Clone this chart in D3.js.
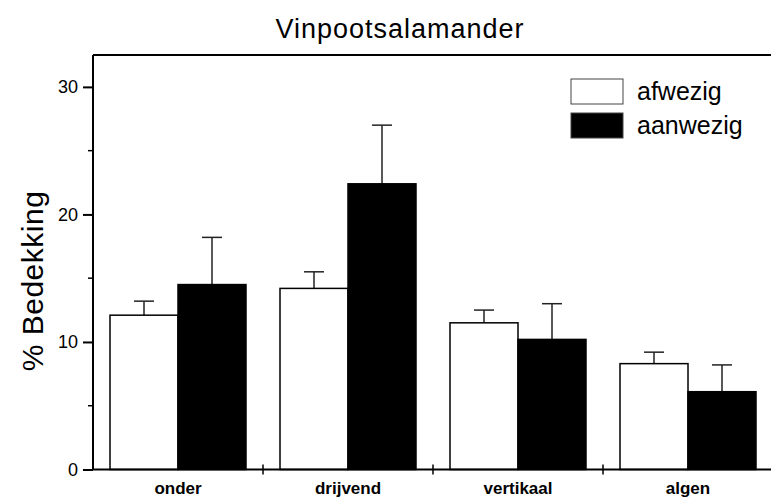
<!DOCTYPE html>
<html>
<head>
<meta charset="utf-8">
<script src="https://cdn.jsdelivr.net/npm/d3@7"></script>
<style>
  body { margin: 0; background: #fff; }
  text { font-family: Arial, "Liberation Sans", sans-serif; }
</style>
</head>
<body>
<div id="chart"></div>
<script>
// Categories and series
const categories = ["onder", "drijvend", "vertikaal", "algen"];
const seriesNames = ["afwezig", "aanwezig"];
const afwezig = [12.1, 14.2, 11.5, 8.3];
const afwezigErr = [1.1, 1.3, 1.0, 0.9];
const aanwezig = [14.5, 22.4, 10.2, 6.1];
const aanwezigErr = [3.7, 4.6, 2.8, 2.1];
const yTicks = [0, 10, 20, 30];
const yMinorTicks = [5, 15, 25];

const width = 771, height = 497;
const margin = { top: 55, left: 93, bottom: 27.5 };

const svg = d3.select("#chart").append("svg")
  .attr("width", width)
  .attr("height", height);

// Scales
const x = d3.scaleBand()
  .domain(categories)
  .range([margin.left, 773])
  .padding(0);

const x1 = d3.scaleBand()
  .domain(seriesNames)
  .range([0, x.bandwidth() * 0.8]);

const y = d3.scaleLinear()
  .domain([0, 32.5])
  .range([height - margin.bottom, margin.top]);

const rows = categories.map((c, i) => ({
  cat: c,
  vals: [
    { name: "afwezig", v: afwezig[i], e: afwezigErr[i], fill: "#fff" },
    { name: "aanwezig", v: aanwezig[i], e: aanwezigErr[i], fill: "#000" }
  ]
}));

const groups = svg.selectAll(".grp")
  .data(rows)
  .enter()
  .append("g")
  .attr("class", "grp")
  .attr("transform", d => `translate(${x(d.cat) + x.bandwidth() * 0.1},0)`);

// Error bars (drawn first so the bar covers the bottom)
groups.selectAll(".err")
  .data(d => d.vals)
  .enter()
  .append("g")
  .each(function (d) {
    const cx = x1(d.name) + x1.bandwidth() / 2;
    const g = d3.select(this);
    g.append("line")
      .attr("x1", cx).attr("x2", cx)
      .attr("y1", y(d.v)).attr("y2", y(d.v + d.e))
      .attr("stroke", "#222").attr("stroke-width", 1.5);
    g.append("line")
      .attr("x1", cx - 10).attr("x2", cx + 10)
      .attr("y1", y(d.v + d.e)).attr("y2", y(d.v + d.e))
      .attr("stroke", "#222").attr("stroke-width", 1.5);
  });

groups.selectAll("rect")
  .data(d => d.vals)
  .enter()
  .append("rect")
  .attr("x", d => x1(d.name))
  .attr("y", d => y(d.v))
  .attr("width", x1.bandwidth())
  .attr("height", d => y(0) - y(d.v))
  .attr("fill", d => d.fill)
  .attr("stroke", "#000")
  .attr("stroke-width", 1.5);

// Y axis
const yAxis = svg.append("g")
  .attr("transform", `translate(${margin.left},0)`)
  .call(d3.axisLeft(y).tickValues(yTicks).tickSize(10).tickPadding(5));
yAxis.select(".domain").remove();
yAxis.selectAll(".tick line").attr("stroke-width", 2);
yAxis.selectAll(".tick text")
  .attr("font-size", 18).attr("fill", "#000")
  .style("font-family", "Arial, 'Liberation Sans', sans-serif");

svg.append("g")
  .selectAll("line")
  .data(yMinorTicks)
  .enter()
  .append("line")
  .attr("x1", margin.left - 5).attr("x2", margin.left)
  .attr("y1", d => y(d)).attr("y2", d => y(d))
  .attr("stroke", "#000").attr("stroke-width", 1.5);

svg.append("line")
  .attr("x1", margin.left).attr("x2", margin.left)
  .attr("y1", y(32.5)).attr("y2", y(0))
  .attr("stroke", "#000").attr("stroke-width", 2);

// Top frame line
svg.append("line")
  .attr("x1", margin.left).attr("x2", width)
  .attr("y1", y(32.5)).attr("y2", y(32.5))
  .attr("stroke", "#000").attr("stroke-width", 2);

// X axis
svg.append("line")
  .attr("x1", margin.left).attr("x2", width)
  .attr("y1", y(0)).attr("y2", y(0))
  .attr("stroke", "#000").attr("stroke-width", 2);

svg.append("g")
  .selectAll("line")
  .data(categories.slice(1))
  .enter()
  .append("line")
  .attr("x1", d => x(d)).attr("x2", d => x(d))
  .attr("y1", y(0) - 5).attr("y2", y(0) + 5)
  .attr("stroke", "#000").attr("stroke-width", 1.5);

svg.append("g")
  .selectAll("text")
  .data(categories)
  .enter()
  .append("text")
  .attr("x", d => x(d) + x.bandwidth() / 2)
  .attr("y", 494)
  .attr("text-anchor", "middle")
  .attr("font-size", 17)
  .attr("font-weight", "bold")
  .text(d => d);

// Title
svg.append("text")
  .attr("x", 400)
  .attr("y", 38)
  .attr("text-anchor", "middle")
  .attr("font-size", 27)
  .attr("letter-spacing", 1)
  .text("Vinpootsalamander");

// Y label
svg.append("text")
  .attr("transform", "translate(43,281) rotate(-90)")
  .attr("text-anchor", "middle")
  .attr("font-size", 30)
  .attr("letter-spacing", 0.5)
  .text("% Bedekking");

// Legend
const legend = svg.append("g")
  .selectAll("g")
  .data(seriesNames)
  .enter()
  .append("g")
  .attr("transform", (d, i) => `translate(571,${79 + i * 34})`);

legend.append("rect")
  .attr("width", 52).attr("height", 25)
  .attr("fill", (d, i) => i === 0 ? "#fff" : "#000")
  .attr("stroke", "#444").attr("stroke-width", 1);

legend.append("text")
  .attr("x", 66)
  .attr("y", 21)
  .attr("font-size", 25)
  .text(d => d);
</script>
</body>
</html>
